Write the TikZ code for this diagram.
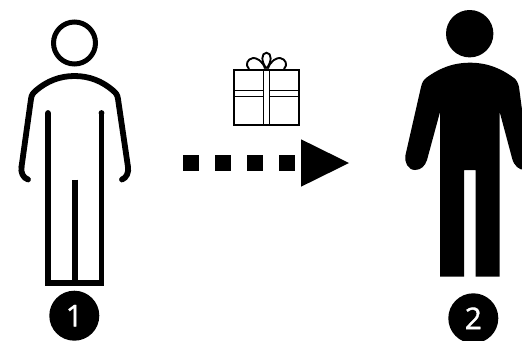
\documentclass[tikz,border=0pt]{standalone}
\usepackage{fontspec}
\setmainfont{Open Sans}
\newfontfamily\badgefont[FakeBold=1.2]{Open Sans}
\tikzset{
  outline/.style={line width=5.8pt,line cap=round,line join=round},
  ribbon/.style={line width=1.9pt},
  solidpart/.style={fill=black,draw=none},
  badge/.style={circle,fill=black,text=white,minimum size=50pt,inner sep=0pt,font=\badgefont\fontsize{30}{30}\selectfont},
  dashsq/.style={fill=black,minimum size=16pt,inner sep=0pt}
}
\begin{document}
\begin{tikzpicture}[x=1pt,y=-1pt]
\useasboundingbox (0,0) rectangle (522,340);
% person 1
\draw[line width=5pt] (74.5,43) circle (21);
\draw[outline] (21.5,167) .. controls (20.5,172) and (23,178) .. (28,179.5);
\draw[outline] (21.5,167) -- (31,99) .. controls (31.5,95) and (33,93) .. (36,90.5) .. controls (47,81) and (60,76) .. (74.5,76) .. controls (89,76) and (102,81) .. (113,90.5) .. controls (116,93) and (117.5,95) .. (118,99) -- (128,167);
\draw[outline] (128,167) .. controls (129,172) and (126.5,178) .. (122,179.5);
\draw[line width=5.8pt,line join=miter] (48,113) -- (48,283) -- (101.5,283) -- (101.5,113);
\fill (48,113) circle (2.9) (101.5,113) circle (2.9);
\draw[line width=5.8pt] (75,179.5) -- (75,283);
\node[badge] (one) at (74.3,315.7) {1};
% gift
\draw[ribbon] (233.6,69.6) rectangle (299.2,125.4);
\draw[ribbon] (263.5,69.6) -- (263.5,125.4) (269.5,69.6) -- (269.5,125.4);
\draw[ribbon] (233.6,90.5) -- (263.5,90.5) (233.6,96.5) -- (263.5,96.5) (269.5,90.5) -- (299.2,90.5) (269.5,96.5) -- (299.2,96.5);
\draw[ribbon] (266.5,68.5) .. controls (261,62) and (261,52.8) .. (266.5,52.8) .. controls (272,52.8) and (272,62) .. (266.5,68.5);
\draw[ribbon] (265,68.5) .. controls (263,61) and (256,57.5) .. (253,58) .. controls (247,59) and (245,65) .. (249,69);
\draw[ribbon] (268,68.5) .. controls (270,61) and (277,57.5) .. (280,58) .. controls (286,59) and (288,65) .. (284,69);
% arrow
\node[dashsq] (s1) at (191,163) {};
\node[dashsq] (s2) at (223,163) {};
\node[dashsq] (s3) at (255,163) {};
\node[dashsq] (s4) at (287,163) {};
\fill (301,139.3) -- (349,163) -- (301,186.7) -- cycle;
% person 2
\fill (469.7,33.7) circle (23.7);
\fill (470,62.7) .. controls (452,62.7) and (438,69) .. (426,78) .. controls (423,80.5) and (422,83) .. (421,87) -- (405.5,155) .. controls (404,162) and (408,170) .. (415,170) .. controls (421,170) and (425,166) .. (427,160) -- (440,112) -- (440,276.7) -- (464,276.7) -- (464,170) -- (475.7,170) -- (475.7,276.7) -- (499.7,276.7) -- (499.7,112) -- (512,158) .. controls (514,166) and (519,170) .. (525,170) -- (530,170) -- (519,87) .. controls (518,83) and (517,80.5) .. (514,78) .. controls (502,69) and (488,62.7) .. (470,62.7) -- cycle;
\node[badge] (two) at (473.3,318.3) {2};
\end{tikzpicture}
\end{document}
